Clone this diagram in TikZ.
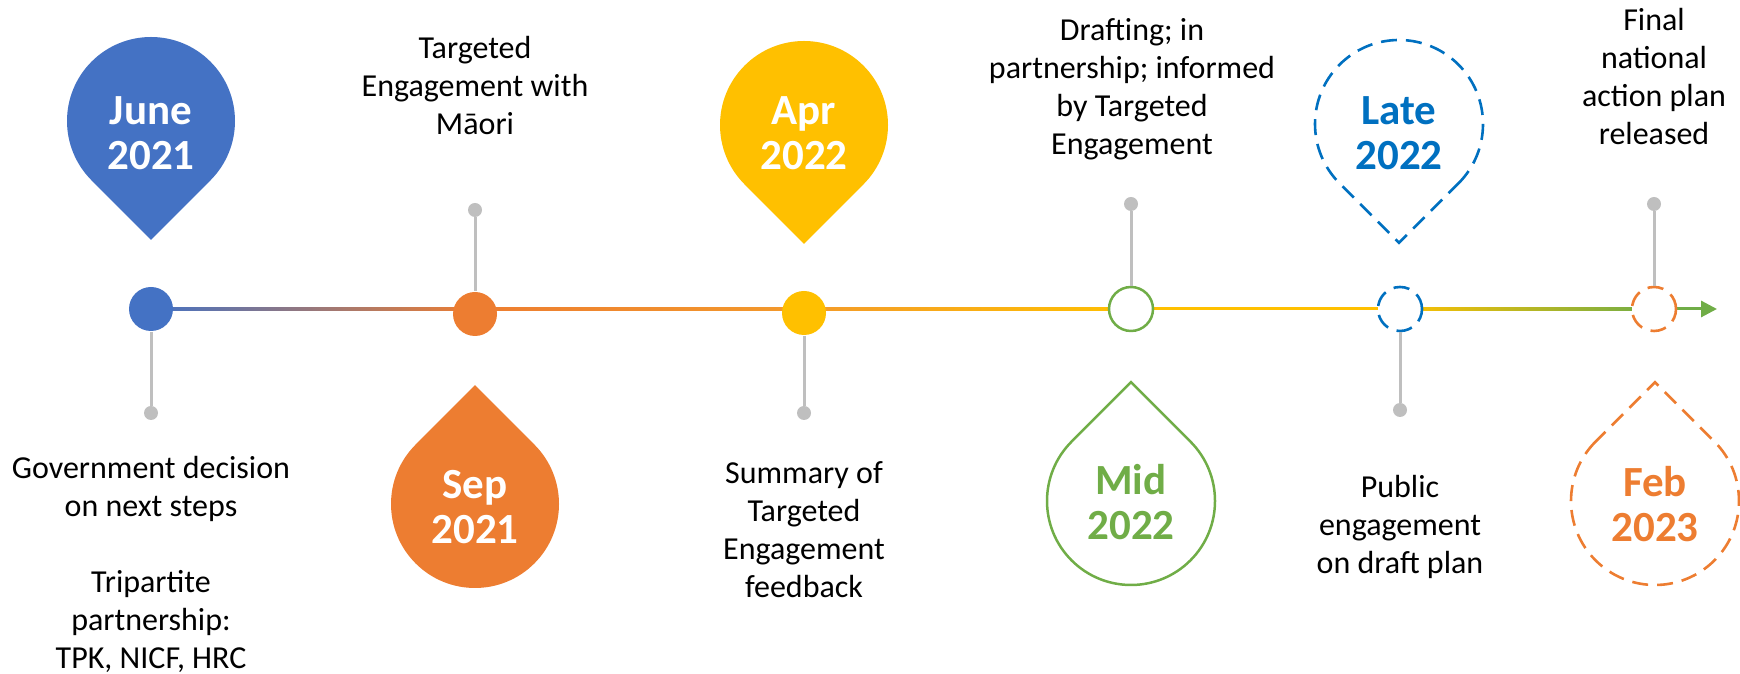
\documentclass[tikz,border=0pt]{standalone}
\usepackage{fontspec}
\setmainfont{Carlito}
\usetikzlibrary{arrows.meta,calc,positioning}
\definecolor{tlblue}{HTML}{4472C4}
\definecolor{tlorange}{HTML}{ED7D31}
\definecolor{tlamber}{HTML}{F39A2B}
\definecolor{tlyellow}{HTML}{FFC000}
\definecolor{tlgreen}{HTML}{70AD47}
\definecolor{tldblue}{HTML}{0070C0}
\definecolor{tlgray}{HTML}{BFBFBF}
\tikzset{
  >={Triangle[length=8pt,width=8pt]}
}
% teardrop pin: #1 style, #2 centre, #3 direction of the tip
\newcommand{\tearpin}[3]{%
  \path[#1] (#2) ++(#3+45:42pt) arc[start angle=#3+45, end angle=#3+315, radius=42pt]
    -- ($(#2)+(#3:59.4pt)$) -- cycle;}

\begin{document}
\begin{tikzpicture}[x=0.5pt,y=0.5pt,
    milestone/.style={circle,minimum size=22pt,inner sep=0pt,line width=1.25pt},
    endmark/.style={circle,fill=tlgray,minimum size=7pt,inner sep=0pt},
    stemline/.style={draw=tlgray,line width=1.5pt},
    notetext/.style={align=center,font=\fontsize{16}{19}\selectfont},
    datetext/.style={align=center,font=\fontsize{21.5}{22.5}\selectfont\bfseries},
    dashy/.style={dash pattern=on 8pt off 4.5pt,line width=1.3pt}]
  \useasboundingbox (0,0) rectangle (1740,674);

  % timeline
  \coordinate (L0) at (151,365);
  \coordinate (L1) at (475,365);
  \coordinate (L2) at (804,365);
  \coordinate (L3) at (1131,365);
  \coordinate (L4) at (1400,365);
  \coordinate (L5) at (1654,365);
  \coordinate (Lend) at (1717,365);
  \shade[left color=tlblue,right color=tlorange] ($(L0)+(0,-1.5)$) rectangle ($(L1)+(0,1.5)$);
  \shade[left color=tlorange,right color=tlamber] ($(L1)+(0,-1.5)$) rectangle ($(L2)+(0,1.5)$);
  \shade[left color=tlamber,right color=tlyellow] ($(L2)+(0,-1.5)$) rectangle ($(L3)+(0,1.5)$);
  \fill[tlyellow] ($(L3)+(0,-1.5)$) rectangle ($(L4)+(0,1.5)$);
  \shade[left color=tlyellow,right color=tlgreen] ($(L4)+(0,-1.5)$) rectangle ($(L5)+(0,1.5)$);
  \draw[tlgreen,line width=1.5pt,->] (L5) -- (Lend);

  % pins
  \coordinate (pJune) at (151,553);
  \coordinate (pSep) at (475,170);
  \coordinate (pApr) at (804,549);
  \coordinate (pMid) at (1131,173);
  \coordinate (pLate) at (1399,550);
  \coordinate (pFeb) at (1655,173);
  \tearpin{fill=tlblue}{pJune}{-90}
  \tearpin{fill=tlorange}{pSep}{90}
  \tearpin{fill=tlyellow}{pApr}{-90}
  \tearpin{draw=tlgreen,line width=1.25pt}{pMid}{90}
  \tearpin{draw=tldblue,dashy}{pLate}{-90}
  \tearpin{draw=tlorange,dashy}{pFeb}{90}

  \node (dJune) at (151,541) [datetext,white] {June\\2021};
  \node (dSep) at (475,167) [datetext,white] {Sep\\2021};
  \node (dApr) at (804,541) [datetext,white] {Apr\\2022};
  \node (dMid) at (1131,172) [datetext,tlgreen] {Mid\\2022};
  \node (dLate) at (1399,541) [datetext,tldblue] {Late\\2022};
  \node (dFeb) at (1655,170) [datetext,tlorange] {Feb\\2023};

  % markers on the line
  \node (mJune) at (151,365) [milestone,fill=tlblue] {};
  \node (mSep) at (475,360) [milestone,fill=tlorange] {};
  \node (mApr) at (804,361) [milestone,fill=tlyellow] {};
  \node (mMid) at (1131,365) [milestone,draw=tlgreen,fill=white] {};
  \node (mLate) at (1400,365) [milestone,draw=tldblue,fill=white,dashy] {};
  \node (mFeb) at (1654,365) [milestone,draw=tlorange,fill=white,dashy] {};

  \node (eJune) at (151,261) [endmark] {};
  \node (eSep) at (475,464) [endmark] {};
  \node (eApr) at (804,261) [endmark] {};
  \node (eMid) at (1131,470) [endmark] {};
  \node (eLate) at (1400,264) [endmark] {};
  \node (eFeb) at (1654,470) [endmark] {};

  \draw[stemline] (mJune) -- (eJune);
  \draw[stemline] (mSep) -- (eSep);
  \draw[stemline] (mApr) -- (eApr);
  \draw[stemline] (mMid) -- (eMid);
  \draw[stemline] (mLate) -- (eLate);
  \draw[stemline] (mFeb) -- (eFeb);

  % notes
  \node (nJune) at (151,110) [notetext] {Government decision\\on next steps\\[19pt]Tripartite\\partnership:\\TPK, NICF, HRC};
  \node (nSep) at (475,588) [notetext] {Targeted\\Engagement with\\Māori};
  \node (nApr) at (804,144) [notetext] {Summary of\\Targeted\\Engagement\\feedback};
  \node (nMid) at (1132,585) [notetext] {Drafting; in\\partnership; informed\\by Targeted\\Engagement};
  \node (nLate) at (1400,147) [notetext] {Public\\engagement\\on draft plan};
  \node (nFeb) at (1654,597) [notetext] {Final\\national\\action plan\\released};
\end{tikzpicture}
\end{document}
